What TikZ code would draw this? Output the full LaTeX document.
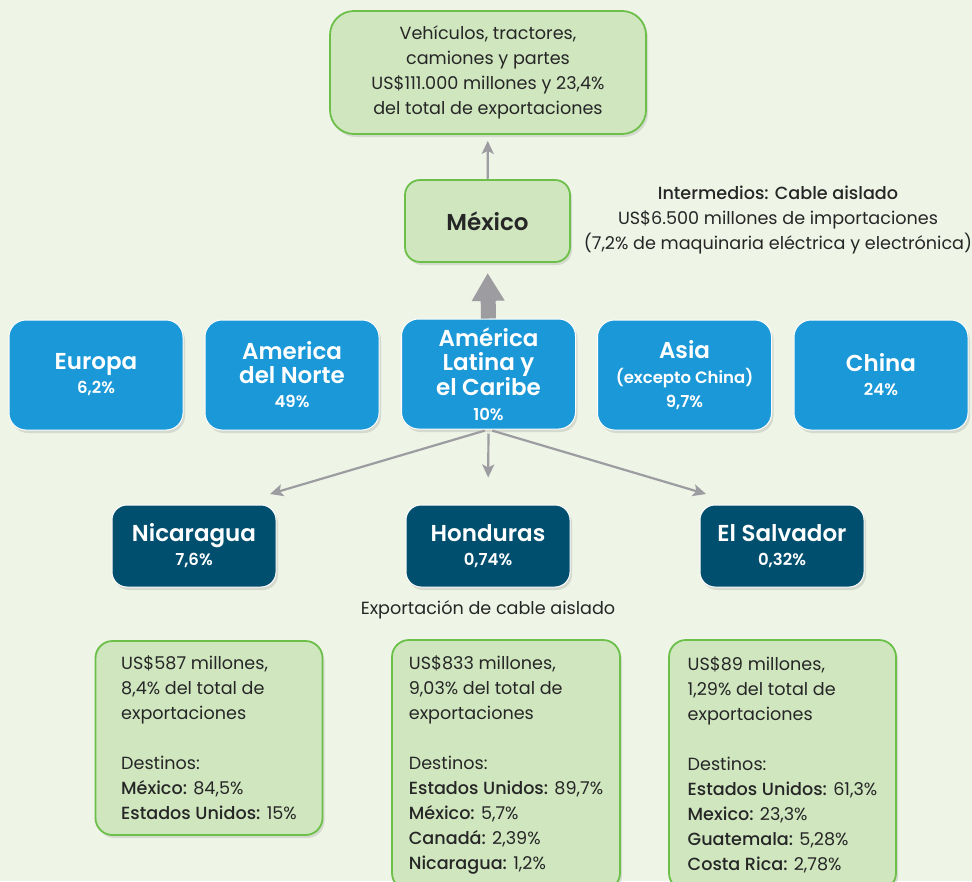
\documentclass[tikz,border=0pt]{standalone}
\usepackage{fontspec}
\setmainfont{Poppins}
\newfontfamily\semib{Poppins SemiBold}
\newfontfamily\medf{Poppins Medium}
\usetikzlibrary{arrows.meta,shadows}
\definecolor{bgcol}{HTML}{EEF4E6}
\definecolor{leafcol}{HTML}{CFE6BF}
\definecolor{leafline}{HTML}{6CC04A}
\definecolor{regcol}{HTML}{1B98D7}
\definecolor{ctrycol}{HTML}{004F6F}
\definecolor{arrcol}{HTML}{9C9CA1}
\definecolor{txtcol}{HTML}{262626}
\newcommand{\lbl}[1]{{\medf #1}}

\begin{document}
\begin{tikzpicture}[x=1pt,y=-1pt,
  boxshadow/.style={drop shadow={opacity=.22,shadow xshift=2pt,shadow yshift=-3pt}},
  leaf/.style={rounded corners=24pt,fill=leafcol,draw=leafline,line width=1.8pt,text=txtcol,boxshadow,
    font=\fontsize{17.6}{25}\selectfont},
  region/.style={rounded corners=17pt,fill=regcol,draw=white,line width=1pt,text=white,align=center,
    minimum width=174pt,minimum height=110pt,boxshadow,font=\fontsize{23}{24}\selectfont\semib},
  country/.style={rounded corners=15pt,fill=ctrycol,draw=white,line width=1pt,text=white,align=center,
    minimum width=164pt,minimum height=82pt,boxshadow,font=\fontsize{23}{24}\selectfont\semib},
  thin/.style={->,>={Stealth[length=13pt,width=12pt,inset=3pt]},arrcol,line width=2.2pt}]
\path[use as bounding box,fill=bgcol] (0,0) rectangle (972,881);

\node[leaf,align=center,minimum width=316pt,minimum height=123pt] (top) at (488,72.5)
  {Vehículos, tractores,\\camiones y partes\\US\$111.000 millones y 23,4\%\\del total de exportaciones};
\node[leaf,rounded corners=15pt,minimum width=165pt,minimum height=82pt,font=\fontsize{23}{24}\selectfont\semib] (mex) at (487.5,221) {México};
\node[text=txtcol,align=center,font=\fontsize{17.6}{25}\selectfont] (inter) at (778,220)
  {\medf Intermedios: Cable aislado\\US\$6.500 millones de importaciones\\(7,2\% de maquinaria eléctrica y electrónica)};

\node[region] (eur) at (96,375) {Europa\\\fontsize{16.5}{18}\selectfont 6,2\%};
\node[region] (nor) at (292,375) {America\\del Norte\\\fontsize{16.5}{18}\selectfont 49\%};
\node[region] (alc) at (488.5,374) {América\\Latina y\\el Caribe\\[1pt]\fontsize{16.5}{18}\selectfont 10\%};
\node[region] (asia) at (684.5,375) {Asia\\[1pt]\fontsize{16.5}{18}\selectfont (excepto China)\\\fontsize{16.5}{18}\selectfont 9,7\%};
\node[region] (chn) at (881,375) {China\\\fontsize{16.5}{18}\selectfont 24\%};

\node[country] (nic) at (194,546) {Nicaragua\\\fontsize{16.5}{18}\selectfont 7,6\%};
\node[country] (hon) at (488,546) {Honduras\\\fontsize{16.5}{18}\selectfont 0,74\%};
\node[country] (sal) at (782,546) {El Salvador\\\fontsize{16.5}{18}\selectfont 0,32\%};

\node[text=txtcol,font=\fontsize{17.6}{25}\selectfont] (expo) at (488,610) {Exportación de cable aislado};

\node[leaf,rounded corners=17pt,align=left,minimum width=227pt,minimum height=194pt] (nicbox) at (209,738)
  {US\$587 millones,\\8,4\% del total de\\exportaciones\\[25pt]Destinos:\\
   \lbl{México:} 84,5\%\\\lbl{Estados Unidos:} 15\%};
\node[leaf,rounded corners=17pt,align=left,minimum width=228pt,minimum height=250pt] (honbox) at (506,765)
  {US\$833 millones,\\9,03\% del total de\\exportaciones\\[25pt]Destinos:\\
   \lbl{Estados Unidos:} 89,7\%\\\lbl{México:} 5,7\%\\\lbl{Canadá:} 2,39\%\\\lbl{Nicaragua:} 1,2\%};
\node[leaf,rounded corners=17pt,align=left,minimum width=227pt,minimum height=250pt] (salbox) at (782.5,765)
  {US\$89 millones,\\1,29\% del total de\\exportaciones\\[25pt]Destinos:\\
   \lbl{Estados Unidos:} 61,3\%\\\lbl{Mexico:} 23,3\%\\\lbl{Guatemala:} 5,28\%\\\lbl{Costa Rica:} 2,78\%};

\coordinate (nicend) at (270,494);
\coordinate (salend) at (706,494);
\draw[thin,shorten >=6pt] (mex) -- (top);
\draw[-{Triangle[length=28pt,width=31pt]},arrcol,line width=15pt,shorten >=10pt] (alc.north) -- (mex.south);
\draw[thin,shorten <=4pt] (alc.south) -- (nicend);
\draw[thin,shorten <=4pt,shorten >=27pt] (alc.south) -- (hon.north);
\draw[thin,shorten <=4pt] (alc.south) -- (salend);
\end{tikzpicture}
\end{document}
